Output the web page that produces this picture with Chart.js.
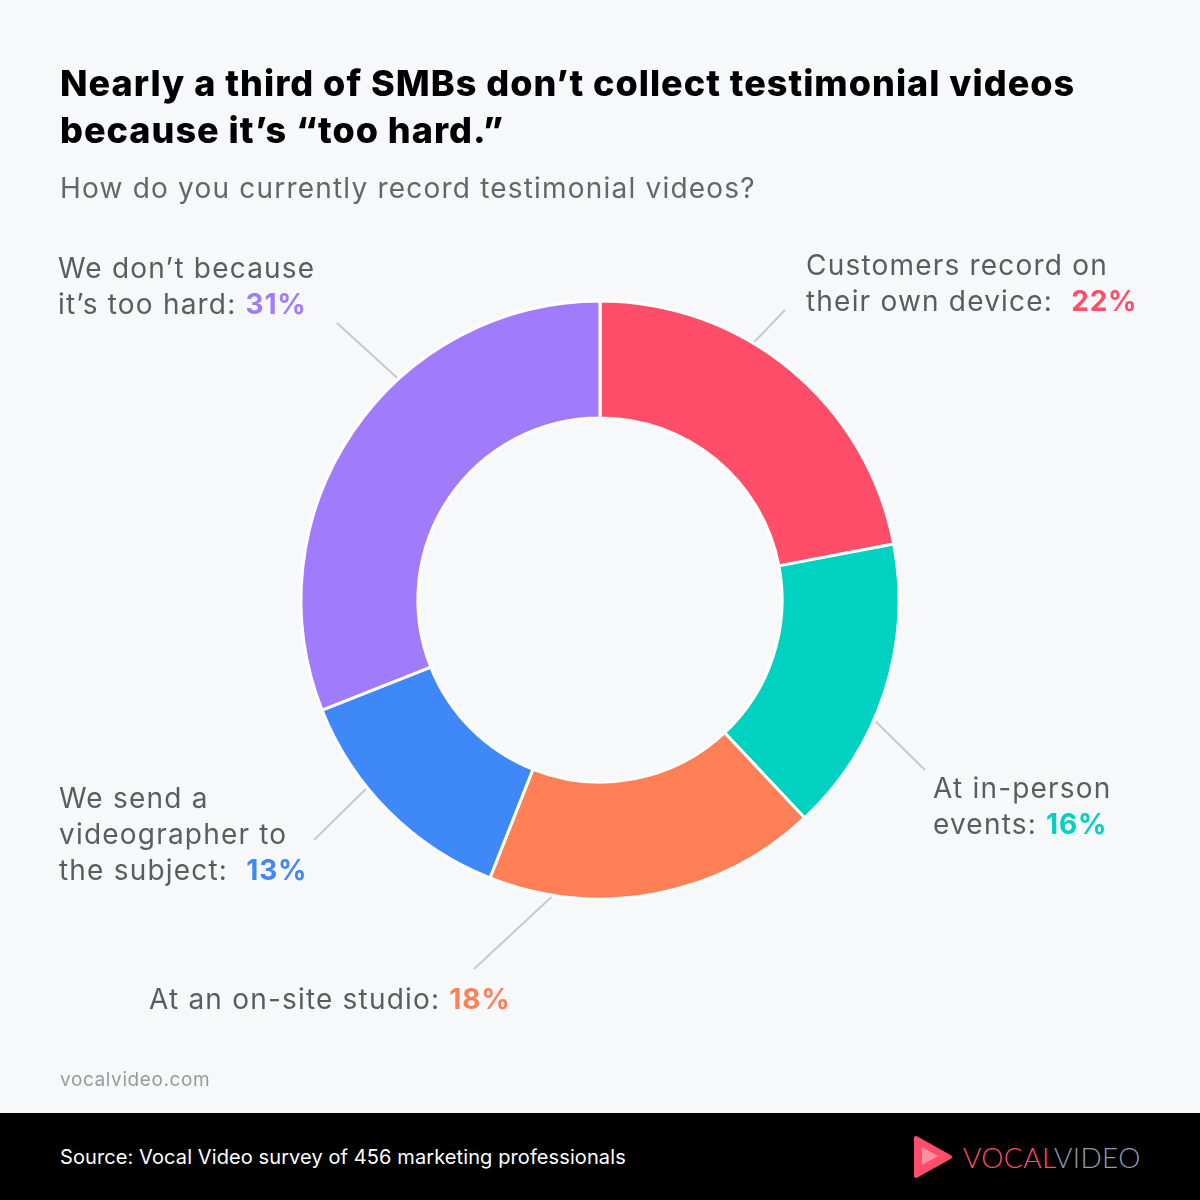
<!DOCTYPE html>
<html>
<head>
<meta charset="utf-8">
<script src="https://cdn.jsdelivr.net/npm/chart.js@4.4.1/dist/chart.umd.min.js"></script>
<style>
  html, body { margin: 0; padding: 0; }
  body {
    width: 1200px; height: 1200px; background: #F7F8FA;
    position: relative; overflow: hidden;
    font-family: Inter, "Noto Sans", sans-serif;
  }
  #chartWrap { position: absolute; left: 0; top: 0; width: 1200px; height: 1200px; z-index: 0; }
  .title {
    position: absolute; left: 60px; top: 60px; z-index: 1;
    font-size: 36px; font-weight: 800; color: #000; line-height: 47px; letter-spacing: 1px;
  }
  .subtitle {
    position: absolute; left: 60px; top: 170px; z-index: 1;
    font-size: 28px; color: #666; line-height: 36px; letter-spacing: 1.2px;
  }
  .lbl {
    position: absolute; z-index: 1; white-space: pre;
    font-size: 28px; line-height: 36px; color: #5c5c5c; letter-spacing: 1.2px;
  }
  .lbl b { font-weight: 700; letter-spacing: 0.8px; }
  .site {
    position: absolute; left: 60px; top: 1068px; z-index: 1;
    font-size: 19px; color: #9a9a9a; letter-spacing: 0.6px;
  }
  .footer {
    position: absolute; left: 0; top: 1113px; width: 1200px; height: 87px; background: #000; z-index: 1;
  }
  .source {
    position: absolute; left: 60px; top: 32px; font-size: 20px; color: #fff; letter-spacing: 0.1px;
  }
  .logo { position: absolute; left: 913px; top: 22px; height: 44px; }
  .logoText {
    position: absolute; left: 963px; top: 26px; font-family: Lato, sans-serif; font-weight: 300;
    font-size: 28px; letter-spacing: 0.4px; line-height: 36px;
  }
</style>
</head>
<body>
<div id="chartWrap"><canvas id="donut" width="1200" height="1200"></canvas></div>

<div class="title">Nearly a third of SMBs don’t collect testimonial videos<br>because it’s “too hard.”</div>
<div class="subtitle">How do you currently record testimonial videos?</div>
<div id="labels"></div>
<div class="site">vocalvideo.com</div>
<div class="footer">
  <div class="source">Source: Vocal Video survey of 456 marketing professionals</div>
  <svg class="logo" width="40" height="44" viewBox="0 0 40 44">
    <path d="M3 3 L37 22 L3 41 Z" fill="#FF4D6A" stroke="#FF4D6A" stroke-width="4" stroke-linejoin="round"/>
    <path d="M9 12 L25 21 L9 30 Z" fill="#FF8FA2"/>
  </svg>
  <div class="logoText"><span style="color:#FF4D6A">VOCAL</span><span style="color:#8E9BB0">VIDEO</span></div>
</div>

<script>
// data, clockwise from 12 o'clock
const categories = [
  ['Customers record on', 'their own device:'],
  ['At in-person', 'events:'],
  ['At an on-site studio:'],
  ['We send a', 'videographer to', 'the subject:'],
  ['We don’t because', 'it’s too hard:']
];
const shares = [22, 16, 18, 13, 31];
const sliceColors = ['#FF4D6A', '#00D1C1', '#FF7F57', '#3F88F8', '#A07CFD'];

// label boxes + leader lines (layout only)
const labelLayout = [
  { left: 806, top: 247, gap: '  ', at: 0.39, end: [785, 310] },
  { left: 933, top: 770, gap: ' ', at: 0.60, end: [925, 770] },
  { left: 149, top: 981, gap: ' ', at: 0.81, end: [474, 969] },
  { left: 59, top: 780, gap: '  ', at: 0.63, end: [314, 840] },
  { left: 58, top: 250, gap: ' ', at: 0.62, end: [337, 323] }
];

const labelsEl = document.getElementById('labels');
categories.forEach((lines, i) => {
  const pos = labelLayout[i];
  const div = document.createElement('div');
  div.className = 'lbl';
  div.style.left = pos.left + 'px';
  div.style.top = pos.top + 'px';
  const head = lines.slice(0, -1).map(l => l + '\n').join('');
  div.innerHTML = head + lines[lines.length - 1] + pos.gap +
    `<b style="color:${sliceColors[i]}">${shares[i]}%</b>`;
  labelsEl.appendChild(div);
});

const leaderLines = {
  id: 'leaderLines',
  afterDatasetsDraw(chart) {
    const ctx = chart.ctx;
    const arcs = chart.getDatasetMeta(0).data;
    ctx.save();
    ctx.strokeStyle = '#C9C9C9';
    ctx.lineWidth = 2;
    arcs.forEach((arc, i) => {
      const p = arc.getProps(['x', 'y', 'startAngle', 'endAngle', 'outerRadius'], true);
      const a = p.startAngle + labelLayout[i].at * (p.endAngle - p.startAngle);
      const r = p.outerRadius + 2;
      ctx.beginPath();
      ctx.moveTo(p.x + Math.cos(a) * r, p.y + Math.sin(a) * r);
      ctx.lineTo(labelLayout[i].end[0], labelLayout[i].end[1]);
      ctx.stroke();
    });
    ctx.restore();
  }
};

new Chart(document.getElementById('donut').getContext('2d'), {
  type: 'doughnut',
  data: {
    labels: categories.map(l => l.join(' ')),
    datasets: [{
      data: shares,
      backgroundColor: sliceColors,
      borderColor: '#FFFFFF',
      borderWidth: 3
    }]
  },
  options: {
    responsive: false,
    animation: false,
    radius: 299,
    cutout: '60.9%',
    layout: { padding: 0 },
    plugins: {
      legend: { display: false },
      tooltip: { enabled: false }
    }
  },
  plugins: [leaderLines]
});
</script>
</body>
</html>
